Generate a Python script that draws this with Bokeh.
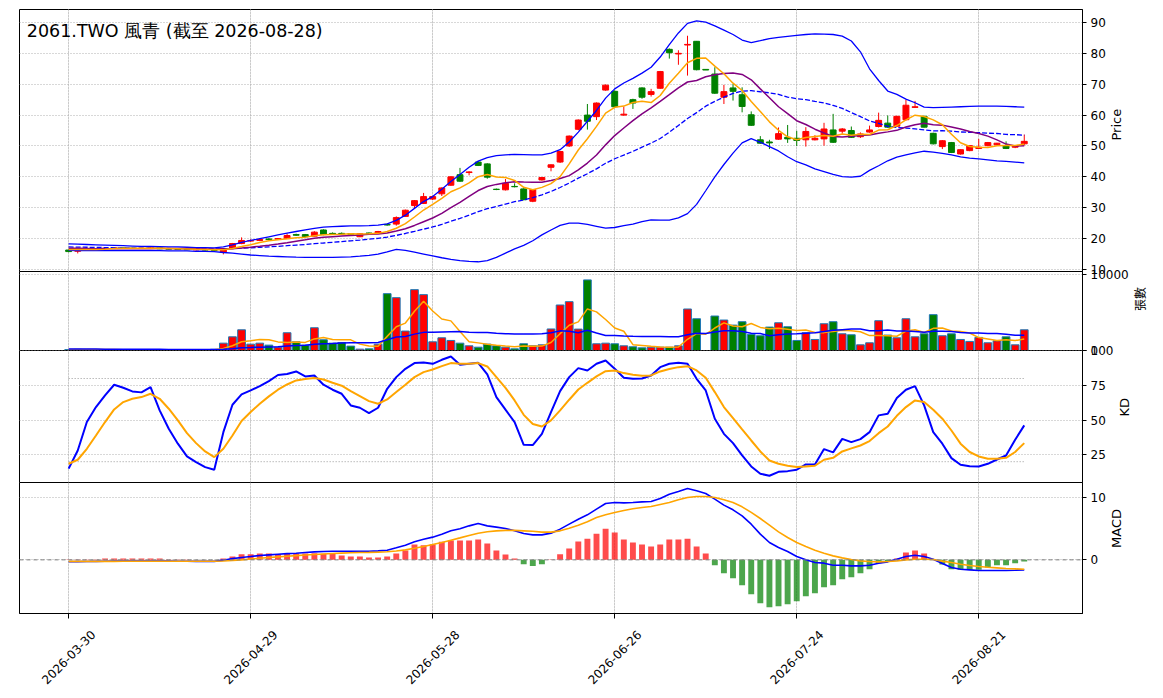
import math
from bokeh.plotting import figure
from bokeh.models import ColumnDataSource, Range1d, FixedTicker, Grid, Span, Label, LinearAxis
from bokeh.layouts import column
from bokeh.embed import file_html
from bokeh.resources import INLINE

# ---------------- data ----------------
title_text = "2061.TWO 風青 (截至 2026-08-28)"
tick_idx = [0, 20, 40, 60, 80, 100]
tick_labels = ["2026-03-30", "2026-04-29", "2026-05-28", "2026-06-26", "2026-07-24", "2026-08-21"]

open_px = [16.3, 15.9, 16.4, 16.7, 16.8, 16.9, 17.0, 16.9, 16.8, 16.9, 17.0, 16.7, 16.6, 16.5, 16.4, 16.4, 16.3,
           15.6, 16.8, 18.4, 19.2, 19.4, 19.9, 19.8, 20.0, 21.3, 21.3, 20.8, 22.8, 21.7, 21.7, 21.6, 20.6, 21.8, 21.7,
           24.6, 24.7, 27.2, 30.7, 31.4, 32.8, 34.5, 37.3, 40.7, 41.4, 44.8, 44.2, 36.0, 35.8, 36.9, 36.1, 32.1, 39.0,
           43.1, 44.8, 50.0, 55.4, 60.0, 59.5, 68.1, 67.7, 60.0, 65.0, 68.8, 66.7, 68.7, 81.3, 79.8, 82.7, 83.9, 74.8,
           73.3, 65.8, 68.8, 66.6, 60.1, 52.0, 51.3, 52.2, 52.8, 52.5, 52.0, 52.0, 52.3, 55.2, 54.8, 55.0, 53.0, 54.5,
           56.3, 57.4, 56.4, 58.5, 62.5, 59.6, 54.1, 49.8, 51.1, 47.4, 48.5, 49.2, 50.1, 50.4, 50.1, 49.6, 50.7]
high_px = [16.4, 16.5, 16.8, 16.9, 17.0, 17.1, 17.1, 17.0, 17.0, 17.1, 17.0, 16.8, 16.7, 16.6, 16.5, 16.5, 16.4,
           16.9, 18.6, 20.4, 19.8, 19.9, 20.1, 20.2, 21.7, 21.6, 21.5, 22.4, 23.0, 22.0, 22.0, 21.8, 21.8, 22.0, 22.5,
           24.9, 27.2, 29.4, 32.5, 34.8, 33.9, 36.6, 40.2, 42.9, 41.8, 45.1, 44.4, 36.2, 39.3, 37.9, 36.3, 36.0, 39.9,
           44.0, 48.4, 53.4, 58.6, 63.6, 64.1, 69.9, 68.0, 62.8, 65.3, 69.0, 68.5, 74.3, 81.6, 81.0, 85.7, 84.0, 74.8,
           75.5, 69.8, 70.1, 69.0, 61.2, 53.2, 52.0, 56.0, 56.8, 54.9, 56.1, 53.5, 57.5, 60.4, 55.8, 56.3, 54.4, 56.6,
           60.8, 59.9, 59.8, 65.0, 64.6, 59.8, 54.3, 51.9, 51.3, 48.9, 50.2, 52.3, 51.3, 51.0, 51.5, 50.2, 53.7]
low_px = [15.6, 15.2, 16.3, 16.5, 16.6, 16.8, 16.8, 16.7, 16.7, 16.8, 16.6, 16.5, 16.4, 16.3, 16.2, 16.1, 16.0,
          14.9, 16.7, 18.2, 18.9, 19.2, 19.5, 19.6, 19.9, 20.9, 20.4, 20.7, 21.1, 21.3, 21.3, 21.2, 20.5, 21.5, 21.6,
          24.2, 24.2, 27.0, 29.6, 31.2, 32.5, 33.8, 37.1, 38.4, 40.5, 43.5, 39.4, 35.7, 35.6, 36.6, 32.4, 31.8, 38.8,
          41.8, 44.5, 49.7, 55.1, 55.3, 58.4, 67.9, 62.3, 59.8, 62.0, 65.3, 66.0, 68.5, 78.3, 76.3, 72.8, 74.5, 74.6,
          66.9, 63.6, 64.7, 60.9, 56.5, 50.7, 49.0, 52.0, 51.0, 50.0, 49.8, 51.8, 50.1, 51.0, 54.0, 52.6, 52.6, 54.3,
          56.0, 55.9, 56.2, 58.3, 62.3, 56.0, 50.5, 49.0, 47.7, 47.2, 48.3, 49.0, 49.9, 50.2, 49.0, 49.3, 50.2]
close_px = [15.8, 16.4, 16.7, 16.8, 16.9, 17.0, 16.9, 16.8, 16.9, 17.0, 16.7, 16.6, 16.5, 16.4, 16.4, 16.3, 16.2,
            16.8, 18.4, 19.4, 19.4, 19.7, 19.7, 20.0, 21.0, 21.1, 20.6, 22.1, 21.3, 21.5, 21.5, 21.4, 21.6, 21.7, 22.3,
            24.4, 26.8, 29.2, 32.3, 33.6, 33.6, 36.4, 40.0, 38.6, 41.6, 43.7, 39.9, 35.9, 37.9, 36.8, 32.6, 35.9, 39.8,
            43.9, 48.2, 53.2, 58.4, 58.0, 63.9, 69.7, 62.7, 60.3, 63.9, 65.8, 67.6, 74.1, 80.2, 80.0, 82.9, 74.7, 74.6,
            67.1, 67.6, 67.7, 62.8, 56.7, 50.9, 51.0, 54.0, 52.3, 51.8, 54.7, 52.5, 55.5, 51.2, 55.5, 52.8, 53.9, 55.2,
            58.3, 56.1, 59.6, 63.2, 62.7, 56.1, 50.7, 51.7, 47.9, 48.8, 50.1, 49.6, 51.1, 50.9, 49.2, 50.1, 51.5]

ma5 = [16.5, 16.45, 16.45, 16.5, 16.52, 16.76, 16.86, 16.88, 16.9, 16.92, 16.86, 16.8, 16.74, 16.64, 16.52, 16.44, 16.36,
       16.42, 16.82, 17.42, 18.04, 18.74, 19.32, 19.64, 19.96, 20.3, 20.48, 20.96, 21.22, 21.32, 21.4, 21.56, 21.46, 21.54, 21.7,
       22.28, 23.36, 24.88, 27.0, 29.26, 31.1, 33.02, 35.18, 36.44, 38.04, 40.06, 40.76, 39.94, 39.8, 38.84, 36.62, 35.82, 36.6,
       37.8, 40.08, 44.2, 48.7, 52.34, 56.34, 60.64, 62.54, 62.92, 64.1, 64.48, 64.06, 66.34, 70.32, 73.54, 76.96, 78.38, 78.48,
       75.86, 73.38, 70.34, 67.96, 64.38, 61.14, 57.82, 55.08, 52.98, 52.0, 52.76, 53.06, 53.36, 53.14, 53.88, 53.5, 53.78, 53.72,
       55.14, 55.26, 56.62, 58.48, 59.98, 59.54, 58.46, 56.88, 53.82, 51.04, 49.84, 49.62, 49.5, 50.1, 50.18, 50.18, 50.56]
ma10 = [16.9, 16.85, 16.8, 16.75, 16.75, 16.75, 16.75, 16.75, 16.75, 16.75, 16.81, 16.83, 16.81, 16.77, 16.72, 16.65, 16.58,
        16.58, 16.73, 16.97, 17.24, 17.55, 17.87, 18.23, 18.69, 19.17, 19.61, 20.14, 20.43, 20.64, 20.85, 21.02, 21.21, 21.38, 21.51,
        21.84, 22.46, 23.17, 24.27, 25.48, 26.69, 28.19, 30.03, 31.72, 33.65, 35.58, 36.89, 37.56, 38.12, 38.44, 38.34, 38.29, 38.27,
        38.8, 39.46, 40.41, 42.26, 44.47, 47.07, 50.36, 53.37, 55.81, 58.22, 60.41, 62.35, 64.44, 66.62, 68.82, 70.72, 71.22, 72.41,
        73.09, 73.46, 73.65, 73.17, 71.43, 68.5, 65.6, 62.71, 60.47, 58.19, 56.95, 55.44, 54.22, 53.06, 52.94, 53.13, 53.42, 53.54,
        54.14, 54.57, 55.06, 56.13, 56.85, 57.34, 56.86, 56.75, 56.15, 55.51, 54.69, 54.04, 53.19, 51.96, 50.61, 50.01, 50.09]
ma20 = [17.3, 17.25, 17.2, 17.15, 17.1, 17.05, 17.0, 16.95, 16.9, 16.9, 16.85, 16.8, 16.75, 16.7, 16.7, 16.65, 16.65,
        16.7, 16.8, 16.85, 17.03, 17.19, 17.34, 17.5, 17.71, 17.91, 18.1, 18.36, 18.58, 18.81, 19.05, 19.29, 19.54, 19.81, 20.1,
        20.51, 21.04, 21.66, 22.35, 23.06, 23.77, 24.61, 25.62, 26.55, 27.58, 28.71, 29.68, 30.37, 31.2, 31.96, 32.52, 33.24, 34.15,
        35.26, 36.56, 38.0, 39.58, 41.02, 42.6, 44.4, 45.86, 47.05, 48.25, 49.61, 50.91, 52.43, 54.44, 56.65, 58.9, 60.79, 62.89,
        64.45, 65.84, 67.03, 67.76, 67.94, 67.56, 67.21, 66.72, 65.85, 65.3, 65.02, 64.45, 63.94, 63.12, 62.19, 60.82, 59.51, 58.13,
        57.31, 56.38, 56.01, 55.79, 55.54, 55.2, 54.9, 54.94, 54.79, 54.53, 54.42, 54.31, 54.13, 54.05, 53.73, 53.68, 53.48]
bb_upper = [18.3, 18.2, 18.1, 18.0, 17.9, 17.8, 17.7, 17.6, 17.5, 17.5, 17.4, 17.3, 17.3, 17.2, 17.1, 17.1, 17.0,
            17.3, 18.0, 18.8, 19.4, 20.0, 20.6, 21.2, 21.8, 22.3, 22.8, 23.3, 23.7, 23.9, 24.0, 24.1, 24.1, 24.2, 24.4,
            24.8, 25.9, 27.6, 29.8, 32.0, 33.6, 36.0, 38.5, 40.8, 43.1, 45.1, 46.2, 46.9, 47.1, 47.3, 47.2, 47.1, 47.1,
            47.7, 48.8, 51.3, 54.5, 58.0, 61.5, 65.5, 68.5, 70.4, 71.9, 73.6, 75.5, 78.8, 82.8, 86.6, 89.7, 90.5, 90.1,
            88.9, 87.5, 86.1, 84.3, 83.5, 84.1, 84.8, 85.2, 85.5, 85.8, 86.1, 86.3, 86.2, 86.1, 85.6, 84.0, 80.5, 75.0,
            71.2, 67.8, 66.7, 65.2, 64.0, 62.6, 62.4, 62.5, 62.6, 62.7, 62.8, 62.9, 62.9, 62.9, 62.8, 62.7, 62.6]
bb_lower = [16.2, 16.1, 16.1, 16.1, 16.1, 16.1, 16.1, 16.1, 16.1, 16.1, 16.1, 16.0, 16.0, 16.0, 15.9, 15.9, 15.8,
            15.5, 15.3, 15.0, 14.7, 14.5, 14.3, 14.2, 14.1, 14.0, 13.95, 13.9, 13.9, 13.9, 14.0, 14.1, 14.3, 14.6, 15.0,
            15.7, 16.5, 16.2, 15.6, 15.0, 14.4, 13.8, 13.3, 12.9, 12.6, 12.5, 12.9, 13.9, 15.3, 16.7, 17.8, 19.3, 21.2,
            22.8, 24.3, 25.0, 25.0, 24.6, 24.0, 23.4, 23.6, 24.2, 24.7, 25.5, 26.1, 26.0, 26.0, 26.7, 28.1, 31.1, 35.5,
            40.0, 44.0, 47.7, 51.0, 52.4, 51.2, 49.8, 48.4, 46.5, 44.9, 43.9, 42.6, 41.7, 40.8, 40.1, 39.9, 40.2, 42.1,
            43.6, 45.2, 46.4, 47.1, 47.8, 48.3, 48.0, 47.6, 47.1, 46.5, 46.1, 45.8, 45.5, 45.2, 45.0, 44.8, 44.5]

volume = [120, 150, 90, 110, 130, 100, 80, 90, 100, 120, 90, 80, 70, 90, 100, 80, 160,
          970, 1810, 2740, 840, 970, 710, 440, 2350, 1150, 710, 3010, 1420, 970, 1060, 580, 180, 220, 840,
          7520, 6990, 2570, 8050, 7390, 1150, 1680, 1330, 970, 620, 440, 840, 620, 440, 220, 890, 620, 750,
          2850, 6020, 6460, 2830, 9340, 890, 970, 890, 620, 490, 350, 440, 440, 440, 620, 5490, 4200, 0,
          4560, 4030, 3360, 3810, 2120, 1950, 3100, 3670, 3140, 1330, 2350, 1460, 3540, 3810, 2210, 2080, 750, 1020,
          3940, 2040, 1680, 4200, 1810, 2210, 4740, 1950, 2210, 1460, 1200, 1730, 1020, 1280, 1810, 750, 2740]
vol_ma5 = [130, 125, 120, 120, 120, 116, 102, 102, 100, 98, 96, 96, 92, 90, 86, 84, 100,
           280, 624, 1152, 1304, 1466, 1414, 1140, 1062, 1124, 1072, 1532, 1728, 1452, 1434, 1408, 842, 602, 576,
           1868, 3150, 3628, 5194, 6504, 5230, 4168, 3920, 2504, 1150, 1008, 840, 698, 592, 512, 602, 558, 584,
           1066, 2226, 3340, 3782, 5500, 5108, 4098, 2984, 2542, 772, 664, 558, 468, 432, 458, 1486, 2238, 2150,
           2974, 3656, 3230, 3152, 3576, 3054, 2868, 2930, 2796, 2638, 2718, 2390, 2364, 2498, 2674, 2620, 2478, 1974,
           2000, 1966, 1886, 2576, 2734, 2388, 2928, 2982, 2584, 2514, 2312, 1710, 1524, 1338, 1408, 1318, 1520]
vol_ma20 = [200, 195, 190, 185, 180, 175, 170, 165, 160, 155, 150, 145, 140, 135, 130, 125, 130,
            180, 240, 364, 400, 441, 472, 488, 600, 652, 684, 830, 896, 938, 987, 1012, 1017, 1024, 1061,
            1433, 1774, 1854, 2166, 2399, 2414, 2450, 2481, 2507, 2421, 2385, 2392, 2272, 2223, 2186, 2177, 2179, 2208,
            2339, 2598, 2545, 2337, 2676, 2318, 1997, 1984, 1931, 1889, 1858, 1849, 1849, 1829, 1829, 2081, 2280, 2236,
            2433, 2597, 2622, 2512, 2295, 2251, 1939, 2078, 2186, 2208, 2295, 2343, 2503, 2671, 2760, 2842, 2848, 2625,
            2612, 2714, 2570, 2578, 2501, 2421, 2552, 2552, 2507, 2397, 2300, 2320, 2253, 2244, 2158, 2005, 2031]

k_line = [15, 28.1, 48.6, 59.4, 67.8, 75.5, 73.3, 70.7, 70, 73.8, 57, 43.8, 33, 23.8, 19.7, 16.1, 14.2,
          41.3, 61.1, 68.5, 71.4, 74.5, 78.1, 82.5, 83.2, 85.1, 81.5, 82.2, 75.5, 71.9, 69, 60.6, 58.9, 55, 58.9,
          72.6, 81, 87, 91.1, 91.6, 90.6, 93.5, 95.9, 89.9, 90.6, 91.3, 82.9, 66.6, 57.5, 48.6, 32.2, 32.0, 40.0,
          55.8, 70.9, 81, 87.5, 85.8, 90.6, 93, 87, 80.5, 79.8, 80, 82.2, 88.2, 90.6, 91.3, 90.6, 79.8, 71.4,
          51, 40.1, 33.4, 24.5, 16.6, 11.3, 9.9, 12.7, 13.2, 14.2, 18, 18, 29.1, 26.7, 36.5, 34.1, 36.3, 41.3,
          53.4, 54.6, 65.9, 71.9, 74.5, 60.6, 41.3, 33, 22.6, 17.8, 16.8, 16.6, 18.5, 21.6, 24.5, 35.8, 46.2]
d_line = [18.5, 21.4, 29.3, 38.9, 48.6, 57.7, 63, 65.4, 66.6, 69, 65.4, 58.2, 49.8, 40.6, 33.4, 27.4, 23.3,
          29.3, 38.9, 49.3, 55.8, 61.8, 67.1, 71.9, 75.7, 78.6, 79.6, 80.3, 79.3, 76.9, 74.8, 70.9, 67.3, 63.7, 61.8,
          64.9, 70.2, 75.5, 81, 84.6, 86.5, 88.9, 91.1, 90.6, 90.6, 91.1, 88.7, 81, 73.3, 64.2, 53.8, 47.2, 45.4,
          49.8, 57, 64.7, 72.1, 76.9, 81.5, 85.3, 85.8, 83.9, 82.7, 82, 82.2, 85.1, 86.8, 88.2, 88.9, 85.8, 80.5,
          70.2, 59.4, 51.4, 43.3, 35.3, 27.4, 20.9, 18.5, 17.1, 16.1, 16.6, 17.1, 21.4, 22.8, 27.4, 29.6, 31.7, 34.9,
          40.6, 45.4, 53.1, 59.4, 64.2, 63, 57.5, 51, 42.5, 33, 27, 23.8, 22.1, 22.1, 22.8, 27, 33.4]

macd_dif = [-0.30, -0.28, -0.26, -0.24, -0.22, -0.2, -0.2, -0.2, -0.2, -0.2, -0.2, -0.21, -0.22, -0.23, -0.24, -0.24, -0.25,
            -0.05, 0.2, 0.37, 0.53, 0.7, 0.8, 0.9, 1.0, 1.07, 1.18, 1.28, 1.34, 1.39, 1.39, 1.39, 1.39, 1.39, 1.44,
            1.55, 1.93, 2.35, 2.89, 3.3, 3.64, 4.1, 4.65, 5.0, 5.45, 5.83, 5.45, 5.24, 5.03, 4.65, 4.22, 4.0, 4.0,
            4.28, 4.92, 5.72, 6.52, 7.22, 8.13, 9.04, 9.2, 9.14, 9.2, 9.3, 9.36, 9.84, 10.53, 10.96, 11.44, 11.07, 10.64,
            9.73, 8.77, 8.02, 7.06, 5.72, 4.12, 2.78, 1.98, 1.34, 0.53, 0.0, -0.43, -0.53, -0.86, -0.86, -0.96, -0.96, -0.86,
            -0.53, -0.32, 0.1, 0.53, 0.75, 0.53, 0.1, -0.6, -1.23, -1.5, -1.6, -1.71, -1.71, -1.71, -1.71, -1.66, -1.6]
macd_dea = [-0.25, -0.25, -0.25, -0.25, -0.24, -0.24, -0.23, -0.23, -0.23, -0.23, -0.23, -0.23, -0.23, -0.23, -0.23, -0.23, -0.23,
            -0.18, -0.1, 0.0, 0.14, 0.26, 0.38, 0.48, 0.58, 0.68, 0.78, 0.86, 0.95, 1.02, 1.08, 1.13, 1.17, 1.2, 1.24,
            1.3, 1.42, 1.6, 1.86, 2.15, 2.45, 2.78, 3.15, 3.52, 3.9, 4.27, 4.5, 4.65, 4.72, 4.72, 4.65, 4.58, 4.44,
            4.44, 4.65, 5.08, 5.56, 6.1, 6.79, 7.22, 7.6, 7.91, 8.18, 8.4, 8.56, 8.88, 9.2, 9.63, 10.0, 10.16, 10.16,
            10.0, 9.63, 9.2, 8.5, 7.6, 6.63, 5.56, 4.49, 3.58, 2.78, 2.14, 1.55, 1.07, 0.64, 0.32, 0.05, -0.16, -0.27,
            -0.32, -0.27, -0.16, 0.0, 0.1, 0.1, 0.05, -0.21, -0.43, -0.7, -0.9, -1.07, -1.18, -1.28, -1.39, -1.44, -1.5]
macd_hist = [0.05, 0.05, 0.05, 0.05, 0.2, 0.2, 0.2, 0.2, 0.2, 0.2, 0.2, 0.05, 0.05, 0.05, 0.03, 0.03, 0.03,
             0.2, 0.53, 0.9, 0.9, 1.0, 1.0, 0.9, 0.96, 1.0, 1.0, 1.07, 0.96, 1.0, 0.7, 0.53, 0.53, 0.37, 0.37,
             0.53, 1.0, 1.5, 2.46, 2.35, 2.5, 2.89, 3.1, 3.1, 3.1, 3.26, 2.62, 1.5, 0.86, 0.2, -0.7, -1.0, -0.7,
             0.05, 0.9, 1.8, 2.94, 3.4, 4.2, 5.0, 4.4, 3.26, 2.78, 2.46, 2.14, 2.46, 3.26, 3.26, 3.4, 2.14, 1.0,
             -0.86, -2.14, -2.94, -4.06, -5.5, -6.95, -7.6, -7.43, -7.1, -6.63, -5.83, -5.35, -4.4, -4.06, -3.1, -2.78, -2.14, -1.5,
             -0.53, -0.2, 0.2, 1.18, 1.5, 1.0, 0.05, -0.75, -1.5, -1.6, -1.6, -1.6, -1.23, -0.86, -0.86, -0.53, -0.27]

# ---------------- styling / layout ----------------
UP, DOWN = "#ff0000", "#008000"
BLUE, ORANGE, PURPLE = "#0000ff", "#ffa500", "#800080"
GRID_C = "#b0b0b0"
TICK_FONT = "DejaVu Sans"
LEFT, RIGHT, FRAME_W = 19, 76, 1064
W = LEFT + FRAME_W + RIGHT
PAD = 8                      # transparent band above/below each frame so edge tick labels are not cut
LABEL_SHIFT = 2.7            # centre rotated date labels on their ticks (matplotlib style)

n = len(close_px)
idx = list(range(n))
x_range = Range1d(-5.4, 111.4)

is_up = [c >= o for o, c in zip(open_px, close_px)]
ccol = [UP if u else DOWN for u in is_up]


def make_fig(frame_h, y0, y1, yticks, ylabel, label_font, label_size, top=PAD, bottom=PAD, xaxis=False):
    p = figure(width=W, height=frame_h + top + bottom, x_range=x_range, y_range=Range1d(y0, y1),
               output_backend="svg", toolbar_location=None,
               y_axis_location="right", x_axis_location=None,
               min_border_left=LEFT, min_border_right=RIGHT,
               min_border_top=top, min_border_bottom=bottom)
    p.outline_line_color = "black"
    p.outline_line_width = 1
    p.background_fill_color = "white"
    p.border_fill_color = None
    vg = Grid(dimension=0, ticker=FixedTicker(ticks=tick_idx), grid_line_color=GRID_C,
              grid_line_dash="1 2", grid_line_width=1)
    p.add_layout(vg)
    ya = p.yaxis[0]
    ya.ticker = FixedTicker(ticks=yticks)
    ya.major_label_text_font = TICK_FONT
    ya.major_label_text_font_size = "12px"
    ya.major_label_text_color = "black"
    ya.major_tick_out = 4
    ya.major_tick_in = 0
    ya.minor_tick_out = 0
    ya.minor_tick_in = 0
    ya.axis_line_color = "black"
    ya.major_label_standoff = 4
    ya.axis_label = ylabel
    ya.axis_label_text_font = label_font
    ya.axis_label_text_font_size = label_size
    ya.axis_label_text_font_style = "normal"
    ya.axis_label_text_color = "black"
    ya.axis_label_standoff = 8
    try:
        ya.axis_label_orientation = math.pi / 2
    except Exception:
        pass
    p.ygrid.grid_line_color = GRID_C
    p.ygrid.grid_line_dash = "1 2"
    p.ygrid.grid_line_width = 1
    if xaxis:
        # date labels centred on their ticks (matplotlib style); tick marks drawn as minor ticks
        lab_pos = [t + LABEL_SHIFT for t in tick_idx]
        xa = LinearAxis(ticker=FixedTicker(ticks=lab_pos, minor_ticks=tick_idx),
                        major_label_overrides={pos: lab for pos, lab in zip(lab_pos, tick_labels)},
                        major_label_orientation=math.pi / 4,
                        major_label_text_font=TICK_FONT, major_label_text_font_size="12px",
                        major_label_text_color="black", major_label_standoff=14,
                        major_tick_out=0, major_tick_in=0, minor_tick_out=5, minor_tick_in=0,
                        minor_tick_line_color="black", minor_tick_line_width=1,
                        axis_line_color="black")
        p.add_layout(xa, "below")
    return p


def set_overlap(p, amount):
    try:
        p.margin = (-amount, 0, 0, 0)
    except Exception:
        pass


# ---- price panel ----
p1 = make_fig(262, 9.35, 94.2, [10, 20, 30, 40, 50, 60, 70, 80, 90], "Price", "DejaVu Sans", "13px", top=9)
csrc = ColumnDataSource(dict(x=idx, o=open_px, h=high_px, l=low_px, c=close_px, col=ccol,
                             top=[max(o, c) for o, c in zip(open_px, close_px)],
                             bot=[min(o, c) for o, c in zip(open_px, close_px)]))
p1.segment(x0="x", y0="l", x1="x", y1="h", source=csrc, line_color="col", line_width=1)
p1.vbar(x="x", top="top", bottom="bot", width=0.65, source=csrc, fill_color="col", line_color="col", line_width=1)
p1.line(idx, bb_upper, line_color=BLUE, line_width=1.3)
p1.line(idx, bb_lower, line_color=BLUE, line_width=1.3)
p1.line(idx, ma20, line_color=BLUE, line_width=1.3, line_dash="5 2")
p1.line(idx, ma10, line_color=PURPLE, line_width=1.5)
p1.line(idx, ma5, line_color=ORANGE, line_width=1.5)
p1.add_layout(Label(x=-4.6, y=87.1, text=title_text, text_font="DejaVu Sans",
                    text_font_size="17.5px", text_baseline="middle", text_align="left", text_color="black"))

# ---- volume panel ----
p2 = make_fig(79, 0, 10450, [0, 10000], "張數", "Noto Sans CJK TC", "12px")
set_overlap(p2, 2 * PAD)
vsrc = ColumnDataSource(dict(x=idx, v=volume, col=ccol))
p2.vbar(x="x", top="v", bottom=0, width=0.85, source=vsrc, fill_color="col", line_color="#1f77b4", line_width=1)
p2.line(idx, vol_ma5, line_color=ORANGE, line_width=1.5)
p2.line(idx, vol_ma20, line_color=BLUE, line_width=1.5)

# ---- KD panel ----
p3 = make_fig(132, 5.0, 100.2, [25, 50, 75, 100], "KD", "DejaVu Sans", "13px")
set_overlap(p3, 2 * PAD)
p3.segment(x0=[idx[0], idx[0]], y0=[80, 20], x1=[idx[-1], idx[-1]], y1=[80, 20],
           line_color="#999999", line_dash="1 2", line_width=1)
p3.line(idx, k_line, line_color=BLUE, line_width=2)
p3.line(idx, d_line, line_color=ORANGE, line_width=2)

# ---- MACD panel ----
p4 = make_fig(131, -8.6, 12.4, [0, 10], "MACD", "DejaVu Sans", "13px", bottom=80, xaxis=True)
set_overlap(p4, 2 * PAD)
hcol = [UP if hv >= 0 else DOWN for hv in macd_hist]
hsrc = ColumnDataSource(dict(x=idx, hv=macd_hist, col=hcol))
p4.vbar(x="x", top="hv", bottom=0, width=0.65, source=hsrc, fill_color="col", fill_alpha=0.7, line_color=None)
p4.add_layout(Span(location=0, dimension="width", line_color="#808080", line_dash="4 3", line_width=1))
p4.line(idx, macd_dif, line_color=BLUE, line_width=1.6)
p4.line(idx, macd_dea, line_color=ORANGE, line_width=1.6)

layout = column(p1, p2, p3, p4, spacing=0)
open("out.html", "w").write(file_html(layout, INLINE))
